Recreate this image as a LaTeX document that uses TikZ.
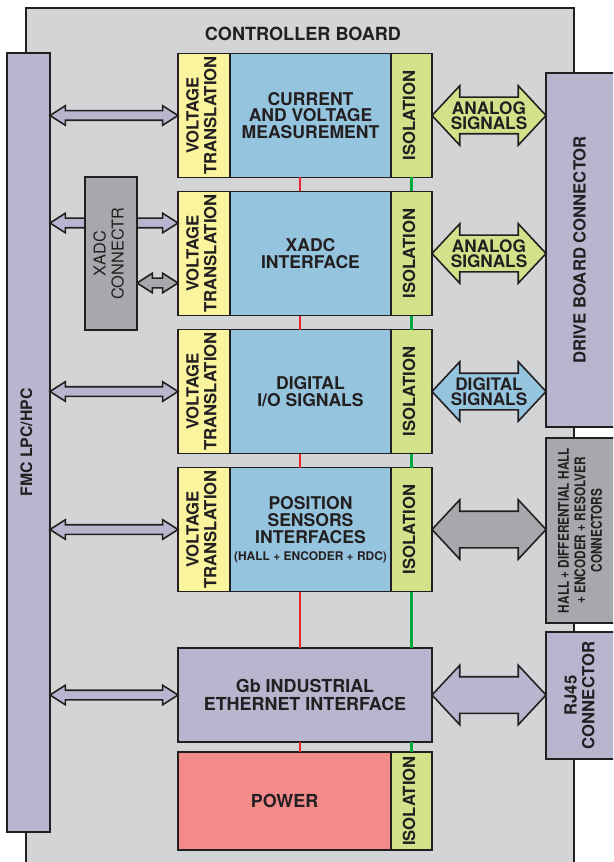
\documentclass[tikz,border=0pt]{standalone}
\usepackage{graphicx}
\usepackage{fontspec}
\setmainfont{TeX Gyre Heros}
\newfontfamily\narrowfont[FakeStretch=0.8]{TeX Gyre Heros}
\usetikzlibrary{shapes.arrows, positioning, calc}

\definecolor{boardgray}{HTML}{D3D4D6}
\definecolor{lav}{HTML}{B9B5CF}
\definecolor{vtyellow}{HTML}{F9F49D}
\definecolor{funcblue}{HTML}{95C5DE}
\definecolor{isogreen}{HTML}{D1E28A}
\definecolor{conngray}{HTML}{A6A8AB}
\definecolor{pwrred}{HTML}{F38B8B}
\definecolor{ink}{HTML}{231F20}
\definecolor{pwrline}{RGB}{229,38,43}
\definecolor{isoline}{RGB}{0,170,60}

\newcommand{\vtxt}[1]{\rotatebox{90}{\begin{tabular}{@{}c@{}}#1\end{tabular}}}

\begin{document}
\begin{tikzpicture}[
    blk/.style={rectangle, draw=ink, line width=1pt, outer sep=0pt, inner sep=0pt, text=ink, align=center, font=\fontsize{9.5}{10}\selectfont\bfseries},
    vt/.style={blk, fill=vtyellow, minimum width=1.04cm, minimum height=2.48cm},
    fn/.style={blk, fill=funcblue, minimum width=3.22cm, minimum height=2.48cm, font=\fontsize{10}{9.6}\selectfont\bfseries},
    iso/.style={blk, fill=isogreen, minimum width=0.82cm, minimum height=2.48cm},
    conn/.style={blk, fill=lav, minimum width=1.44cm},
    tarr/.style={double arrow, draw=ink, line width=0.9pt, fill=lav, outer sep=0pt, inner xsep=0pt, inner ysep=0.08cm, double arrow head extend=0.1cm, double arrow tip angle=65},
    barr/.style={double arrow, draw=ink, line width=0.9pt, outer sep=0pt, inner xsep=0pt, inner ysep=0.35cm, double arrow head extend=0.23cm, double arrow tip angle=94, minimum height=2.28cm},
    lbl/.style={text=ink, align=center, font=\fontsize{9.8}{8.8}\selectfont\bfseries},
    pwrlink/.style={draw=pwrline, line width=1.1pt},
    isolink/.style={draw=isoline, line width=1.3pt},
]
\clip (0,0) rectangle (12.26,-17.24);
\fill[white] (0,0) rectangle (12.26,-17.24);

% board
\draw[ink, fill=boardgray, line width=0.7pt] (0.52,-0.16) rectangle (11.48,-17.8);
\node[text=ink, font=\fontsize{10.3}{12}\selectfont\bfseries] (title) at (6.06,-0.68) {CONTROLLER BOARD};

% function rows
\node[vt] (vt1) at (4.08,-2.31) {\vtxt{VOLTAGE\\TRANSLATION}};
\node[fn, right=0pt of vt1] (cur) {CURRENT\\AND VOLTAGE\\MEASUREMENT};
\node[iso, right=0pt of cur] (iso1) {\vtxt{ISOLATION}};

\node[vt] (vt2) at (4.08,-5.07) {\vtxt{VOLTAGE\\TRANSLATION}};
\node[fn, right=0pt of vt2] (xif) {XADC\\INTERFACE};
\node[iso, right=0pt of xif] (iso2) {\vtxt{ISOLATION}};

\node[vt] (vt3) at (4.08,-7.83) {\vtxt{VOLTAGE\\TRANSLATION}};
\node[fn, right=0pt of vt3] (dio) {DIGITAL\\I/O SIGNALS};
\node[iso, right=0pt of dio] (iso3) {\vtxt{ISOLATION}};

\node[vt] (vt4) at (4.08,-10.59) {\vtxt{VOLTAGE\\TRANSLATION}};
\node[fn, right=0pt of vt4] (pos) {POSITION\\SENSORS\\INTERFACES\\{\fontsize{6.8}{9}\selectfont(HALL + ENCODER + RDC)}};
\node[iso, right=0pt of pos] (iso4) {\vtxt{ISOLATION}};

\node[blk, fill=lav, minimum width=5.08cm, minimum height=1.88cm, font=\fontsize{10.2}{9.8}\selectfont\bfseries] (eth) at (6.10,-13.90) {Gb INDUSTRIAL\\ETHERNET INTERFACE};
\node[blk, fill=pwrred, minimum width=4.26cm, minimum height=1.96cm, font=\fontsize{10.2}{12}\selectfont\bfseries] (pwr) at (5.69,-16.02) {POWER};
\node[iso, minimum height=1.96cm, right=0pt of pwr] (iso5) {\vtxt{ISOLATION}};

% connectors
\node[blk, fill=lav, minimum width=0.86cm, minimum height=15.58cm, font=\fontsize{9}{10}\selectfont\bfseries] (fmc) at (0.57,-8.85) {\vtxt{FMC LPC/HPC}};
\node[conn, minimum height=7.08cm] (drive) at (11.64,-5.0) {\vtxt{DRIVE BOARD CONNECTOR}};
\node[conn, fill=conngray, minimum height=3.7cm, font=\narrowfont\fontsize{8.4}{9.4}\selectfont\bfseries] (hall) at (11.64,-10.61) {\vtxt{HALL + DIFFERENTIAL HALL\\+ ENCODER + RESOLVER\\CONNECTORS}};
\node[conn, minimum height=2.54cm] (rj) at (11.64,-13.91) {\vtxt{RJ45\\CONNECTOR}};

% FMC side arrows
\coordinate (xa) at (0,-4.46);
\coordinate (xb) at (0,-5.66);
\path (fmc.east |- vt1.west) -- (vt1.west) node[midway, tarr, minimum height=2.56cm] (f1) {};
\path (fmc.east |- xa) -- (vt2.west |- xa) node[midway, tarr, minimum height=2.56cm] (f2) {};
\path (fmc.east |- vt3.west) -- (vt3.west) node[midway, tarr, minimum height=2.56cm] (f3) {};
\path (fmc.east |- vt4.west) -- (vt4.west) node[midway, tarr, minimum height=2.56cm] (f4) {};
\path (fmc.east |- eth.west) -- (eth.west) node[midway, tarr, minimum height=2.56cm] (f5) {};

\node[blk, fill=conngray, minimum width=1.04cm, minimum height=3.06cm, font=\fontsize{9.3}{10.3}\selectfont] (xadc) at (2.22,-5.07) {\vtxt{XADC\\CONNECTR}};
\path (xadc.east |- xb) -- (vt2.west |- xb) node[midway, tarr, fill=conngray, minimum height=0.82cm] (f6) {};

% drive side arrows
\path (iso1.east) -- (drive.west |- iso1.east) node[midway, barr, fill=isogreen] (s1) {} node[midway, lbl] {ANALOG\\SIGNALS};
\path (iso2.east) -- (drive.west |- iso2.east) node[midway, barr, fill=isogreen] (s2) {} node[midway, lbl] {ANALOG\\SIGNALS};
\path (iso3.east) -- (drive.west |- iso3.east) node[midway, barr, fill=funcblue] (s3) {} node[midway, lbl] {DIGITAL\\SIGNALS};
\path (iso4.east) -- (hall.west |- iso4.east) node[midway, barr, fill=conngray] (s4) {};
\path (eth.east) -- (rj.west |- eth.east) node[midway, barr, fill=lav] (s5) {};

% power and isolation links
\coordinate (rx) at (6.0,0);
\draw[pwrlink] (cur.south -| rx) -- (xif.north -| rx);
\draw[pwrlink] (xif.south -| rx) -- (dio.north -| rx);
\draw[pwrlink] (dio.south -| rx) -- (pos.north -| rx);
\draw[pwrlink] (pos.south -| rx) -- (eth.north -| rx);
\draw[pwrlink] (eth.south -| rx) -- (pwr.north -| rx);
\draw[isolink] (iso1.south) -- (iso2.north);
\draw[isolink] (iso2.south) -- (iso3.north);
\draw[isolink] (iso3.south) -- (iso4.north);
\draw[isolink] (iso4.south) -- (iso4.south |- eth.north);
\draw[isolink] (eth.south -| iso5.north) -- (iso5.north);
\end{tikzpicture}
\end{document}
